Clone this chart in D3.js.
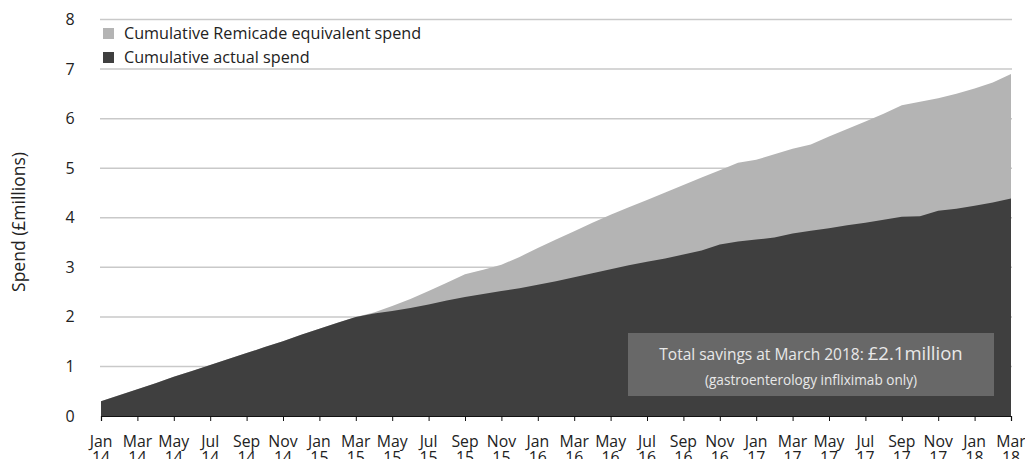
<!DOCTYPE html>
<html><head><meta charset="utf-8">
<script src="https://cdn.jsdelivr.net/npm/d3@7"></script>
<style>
html,body{margin:0;padding:0;background:#fff;}
svg text{font-family:"Open Sans",sans-serif;}
</style></head>
<body>
<svg id="chart" width="1025" height="459"></svg>
<script>
// Month labels (every second month), Jan 2014 .. Mar 2018
const tickMonths = ["Jan","Mar","May","Jul","Sep","Nov","Jan","Mar","May","Jul","Sep","Nov","Jan","Mar","May","Jul","Sep","Nov","Jan","Mar","May","Jul","Sep","Nov","Jan","Mar"];
const tickYears  = ["14","14","14","14","14","14","15","15","15","15","15","15","16","16","16","16","16","16","17","17","17","17","17","17","18","18"];
const yTicks = [0,1,2,3,4,5,6,7,8];

// Monthly cumulative spend (£ millions), Jan 2014 .. Mar 2018 (51 months)
const actualSpend = [0.30,0.42,0.54,0.66,0.79,0.91,1.03,1.15,1.27,1.39,1.51,1.64,1.76,1.88,2.00,
  2.07,2.12,2.18,2.25,2.33,2.40,2.46,2.52,2.58,2.65,2.72,2.80,2.88,2.96,3.04,3.11,3.18,3.26,3.34,3.46,3.52,
  3.56,3.60,3.68,3.74,3.79,3.85,3.90,3.96,4.02,4.03,4.14,4.18,4.24,4.31,4.39];
const remicadeSpend = [0.30,0.42,0.54,0.66,0.79,0.91,1.03,1.15,1.27,1.39,1.51,1.64,1.76,1.88,2.00,
  2.09,2.22,2.36,2.52,2.69,2.86,2.95,3.05,3.21,3.39,3.56,3.73,3.90,4.06,4.21,4.36,4.51,4.66,4.81,4.96,5.11,
  5.17,5.28,5.39,5.48,5.64,5.79,5.94,6.10,6.27,6.34,6.41,6.50,6.61,6.73,6.90];

const legendLabels = ["Cumulative Remicade equivalent spend","Cumulative actual spend"];
const colors = {remicade:"#b4b4b4", actual:"#3f3f3f", grid:"#c9c9c9", text:"#222", box:"#686868", boxText:"#e8e8e8"};

const svg = d3.select("#chart");
const x = d3.scaleLinear().domain([0, actualSpend.length-1]).range([101, 1011]);
const y = d3.scaleLinear().domain([0, 8]).range([416, 19.5]);

// gridlines
svg.append("g").selectAll("line").data(yTicks.filter(d=>d>0)).join("line")
  .attr("x1",100).attr("x2",1012)
  .attr("y1",d=>y(d)).attr("y2",d=>y(d))
  .attr("stroke",colors.grid).attr("stroke-width",1.5);

// areas
const area = arr => d3.area().x((d,i)=>x(i)).y0(y(0)).y1(d=>y(d))(arr);
svg.append("path").attr("d",area(remicadeSpend)).attr("fill",colors.remicade);
svg.append("path").attr("d",area(actualSpend)).attr("fill",colors.actual);

// y tick labels
svg.append("g").selectAll("text").data(yTicks).join("text")
  .attr("x",70).attr("y",d=>y(d)).attr("dy","0.35em")
  .attr("text-anchor","middle").attr("font-size",16).attr("fill",colors.text)
  .text(d=>d);

// y axis title
svg.append("text").attr("transform","translate(25,222) rotate(-90)")
  .attr("text-anchor","middle").attr("font-size",17.5).attr("fill",colors.text)
  .text("Spend (£millions)");

// x axis
const tickIdx = tickMonths.map((d,i)=>i*2);
const xAxis = d3.axisBottom(x).tickValues(tickIdx).tickSize(5).tickFormat("");
const gx = svg.append("g").attr("transform",`translate(0,${y(0)})`).call(xAxis);
gx.select(".domain").attr("stroke","#111").attr("stroke-width",1.2);
gx.selectAll(".tick line").attr("stroke","#111");
const lab = svg.append("g").selectAll("text").data(tickIdx).join("text")
  .attr("x",d=>x(d)).attr("text-anchor","middle").attr("font-size",15.8).attr("fill",colors.text);
lab.append("tspan").attr("x",d=>x(d)).attr("y",447).text((d,i)=>tickMonths[i]);
lab.append("tspan").attr("x",d=>x(d)).attr("y",463).text((d,i)=>tickYears[i]);

// legend
const leg = svg.append("g");
[colors.remicade, colors.actual].forEach((c,i)=>{
  leg.append("rect").attr("x",103).attr("y",28+i*24).attr("width",11).attr("height",11).attr("fill",c);
  leg.append("text").attr("x",124).attr("y",39+i*24).attr("font-size",16.2).attr("fill",colors.text).text(legendLabels[i]);
});

// annotation box
svg.append("rect").attr("x",628).attr("y",333).attr("width",366).attr("height",63).attr("fill",colors.box);
const t1 = svg.append("text").attr("x",811).attr("y",360).attr("text-anchor","middle").attr("fill",colors.boxText).attr("font-size",15.5);
t1.append("tspan").text("Total savings at March 2018: ");
t1.append("tspan").attr("font-size",18.5).text("£2.1million");
svg.append("text").attr("x",811).attr("y",385).attr("text-anchor","middle").attr("fill",colors.boxText).attr("font-size",13.6)
  .text("(gastroenterology infliximab only)");
</script>
</body></html>
